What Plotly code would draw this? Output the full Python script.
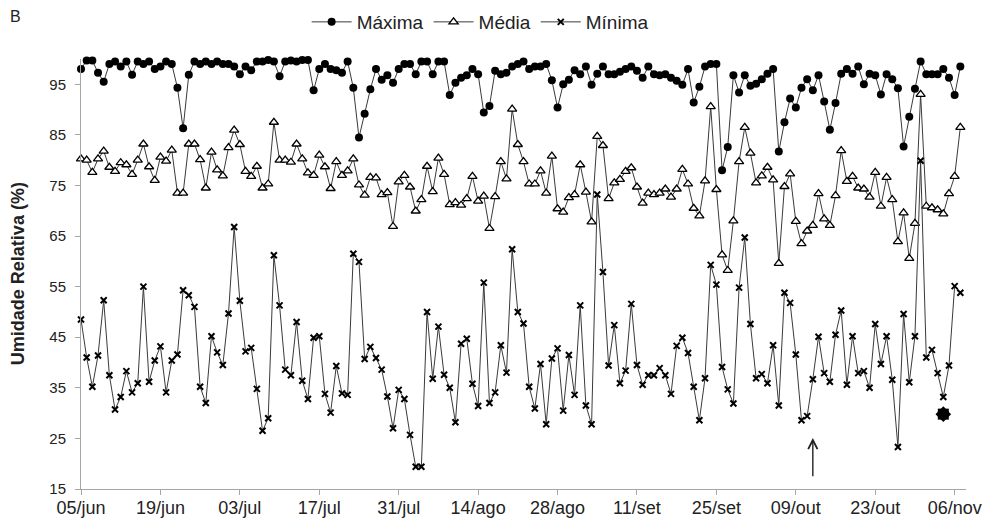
import pandas as pd
import plotly.graph_objects as go

start_date = "2012-06-05"
n_days = 156

tick_labels = ["05/jun", "19/jun", "03/jul", "17/jul", "31/jul", "14/ago",
               "28/ago", "11/set", "25/set", "09/out", "23/out", "06/nov"]

maxima = [98.0, 99.7, 99.7, 97.3, 95.5, 99.0, 99.5, 98.5, 99.5, 96.9,
          99.5, 99.0, 99.5, 98.0, 98.5, 99.5, 99.0, 94.3, 86.3, 96.9,
          99.5, 99.0, 99.5, 99.0, 99.5, 99.0, 99.0, 98.5, 97.0, 98.5,
          97.8, 99.5, 99.5, 99.8, 99.5, 96.6, 99.5, 99.7, 99.5, 99.8,
          99.8, 93.8, 98.0, 99.0, 98.0, 97.8, 97.3, 99.5, 94.3, 84.5,
          89.2, 94.0, 98.0, 95.9, 96.8, 95.3, 98.0, 99.0, 99.0, 97.0,
          99.5, 99.5, 97.0, 99.5, 99.5, 92.9, 95.3, 96.3, 96.8, 98.0,
          97.0, 89.4, 90.7, 97.7, 97.0, 97.3, 98.5, 99.0, 99.5, 98.0,
          98.5, 98.5, 99.0, 95.8, 90.4, 95.0, 95.9, 97.8, 97.0, 98.5,
          94.9, 97.1, 98.5, 97.0, 97.0, 97.5, 98.0, 98.5, 97.7, 96.3,
          98.5, 97.0, 96.8, 97.0, 96.3, 95.7, 94.9, 98.0, 91.4, 94.5,
          98.5, 99.0, 99.0, 78.0, 82.6, 96.8, 93.4, 96.8, 94.7, 95.1,
          96.0, 97.1, 98.0, 81.7, 87.5, 92.2, 90.4, 94.3, 96.0, 93.8,
          96.8, 91.6, 86.0, 91.3, 97.1, 98.0, 97.1, 98.5, 95.0, 97.1,
          96.8, 93.0, 97.0, 96.0, 94.2, 82.7, 88.6, 94.1, 99.5, 97.0,
          97.0, 97.0, 98.0, 96.3, 92.9, 98.5]

media = [80.25, 80.0, 77.6, 80.25, 81.8, 78.6, 77.8, 79.5, 79.1, 77.2,
         80.0, 83.2, 78.7, 76.0, 80.6, 79.8, 82.0, 73.5, 73.5, 83.2,
         83.2, 80.1, 74.5, 81.6, 78.1, 76.9, 82.5, 85.95, 83.1, 77.8,
         76.8, 78.8, 74.5, 75.3, 87.5, 80.0, 80.0, 79.6, 83.2, 80.25,
         77.5, 77.0, 81.0, 78.7, 74.4, 79.7, 77.0, 77.9, 80.25, 75.1,
         73.1, 76.6, 76.5, 73.2, 73.6, 66.9, 75.7, 77.0, 74.7, 69.95,
         72.2, 78.8, 73.8, 80.4, 77.2, 71.2, 71.6, 71.1, 72.4, 76.8,
         71.9, 72.9, 66.5, 72.8, 79.7, 76.3, 90.1, 83.1, 79.7, 75.3,
         75.3, 77.9, 73.5, 80.8, 70.4, 69.75, 72.6, 73.2, 79.1, 73.7,
         67.8, 84.7, 82.9, 72.4, 75.5, 76.2, 77.8, 78.5, 74.7, 71.5,
         73.5, 73.2, 73.5, 74.3, 72.7, 74.3, 78.2, 75.3, 70.5, 69.0,
         75.9, 90.6, 74.2, 61.3, 58.2, 68.0, 79.7, 86.5, 81.4, 75.5,
         76.9, 78.6, 76.1, 59.6, 74.8, 77.3, 67.9, 63.5, 66.0, 67.1,
         73.4, 68.4, 67.1, 73.0, 81.9, 75.8, 76.8, 74.5, 74.3, 72.7,
         77.6, 70.9, 76.6, 72.2, 63.9, 69.6, 60.6, 67.5, 93.0, 70.9,
         70.6, 70.2, 69.4, 73.4, 76.8, 86.5]

minima = [48.5, 41.0, 35.2, 41.4, 52.3, 37.5, 30.7, 33.2, 38.3, 34.1,
          35.9, 55.0, 36.2, 40.4, 43.2, 34.1, 40.4, 41.6, 54.3, 53.3,
          51.0, 35.2, 32.0, 45.2, 42.0, 39.5, 49.7, 66.8, 52.2, 42.2,
          42.9, 34.8, 26.5, 29.0, 61.2, 51.3, 38.6, 37.5, 48.0, 36.4,
          32.8, 44.9, 45.2, 33.8, 30.1, 39.3, 33.9, 33.6, 61.5, 59.9,
          40.7, 43.1, 40.9, 38.6, 33.3, 27.0, 34.6, 32.8, 25.7, 19.4,
          19.4, 50.0, 36.8, 47.1, 37.6, 35.0, 28.2, 43.7, 44.7, 35.8,
          31.4, 55.8, 32.0, 34.1, 43.4, 38.0, 62.4, 50.0, 47.7, 35.2,
          30.9, 39.7, 27.8, 40.8, 42.8, 30.5, 41.5, 33.6, 51.3, 31.5,
          27.8, 73.2, 57.9, 39.4, 47.4, 35.9, 38.4, 51.6, 39.5, 35.6,
          37.5, 37.5, 38.9, 37.5, 33.8, 43.3, 44.9, 41.9, 35.2, 28.6,
          36.9, 59.3, 55.4, 39.1, 34.7, 31.9, 54.8, 64.7, 47.6, 36.9,
          37.7, 35.9, 43.4, 31.5, 53.8, 51.8, 41.6, 28.6, 29.4, 36.7,
          45.1, 37.9, 36.2, 45.5, 50.3, 35.6, 45.2, 37.9, 38.3, 35.0,
          47.6, 39.7, 45.2, 36.6, 23.3, 49.6, 36.1, 45.2, 79.9, 41.0,
          42.5, 37.9, 33.2, 39.4, 55.1, 53.8]

star_day = 152
star_value = 29.8
arrow_day = 129
arrow_tip = 25.1
arrow_tail = 17.2

dates = pd.date_range(start_date, periods=n_days, freq="D")
tick_vals = pd.date_range(start_date, periods=len(tick_labels), freq="14D")

FONT = "Arial, Liberation Sans, sans-serif"
LINE_C = "#3a3a3a"

fig = go.Figure()
fig.add_trace(go.Scatter(
    x=dates, y=maxima, name="Máxima", mode="lines+markers",
    line=dict(color=LINE_C, width=1),
    marker=dict(symbol="circle", size=8, color="black"),
    cliponaxis=False))
fig.add_trace(go.Scatter(
    x=dates, y=media, name="Média", mode="lines+markers",
    line=dict(color=LINE_C, width=1),
    marker=dict(symbol="triangle-up", size=8, color="white",
                line=dict(color="black", width=1.3)),
    cliponaxis=False))
fig.add_trace(go.Scatter(
    x=dates, y=minima, name="Mínima", mode="lines+markers",
    line=dict(color=LINE_C, width=1),
    marker=dict(symbol="x-thin", size=6, color="black",
                line=dict(color="black", width=2)),
    cliponaxis=False))

star_x = [dates[star_day]]
fig.add_trace(go.Scatter(x=star_x, y=[star_value], mode="markers", showlegend=False,
                         marker=dict(symbol="square", size=11, color="black"),
                         hoverinfo="skip"))
fig.add_trace(go.Scatter(x=star_x, y=[star_value], mode="markers", showlegend=False,
                         marker=dict(symbol="diamond", size=12, color="black"),
                         hoverinfo="skip"))

fig.add_annotation(x=dates[arrow_day], y=arrow_tip, ax=dates[arrow_day], ay=arrow_tail,
                   xref="x", yref="y", axref="x", ayref="y", text="",
                   showarrow=True, arrowhead=5, arrowsize=1.3, arrowwidth=1.4,
                   arrowcolor="#222222")

fig.add_annotation(text="B", xref="paper", yref="paper", x=-0.082, y=1.098,
                   xanchor="left", yanchor="middle", showarrow=False,
                   font=dict(family=FONT, size=16, color="#222222"))
fig.add_annotation(text="<b>Umidade Relativa (%)</b>", xref="paper", yref="paper",
                   x=-0.071, y=0.50, textangle=-90, xanchor="center", yanchor="middle",
                   showarrow=False, font=dict(family=FONT, size=18, color="#222222"))

fig.update_layout(
    width=987, height=522,
    margin=dict(l=81, r=21, t=59, b=33, autoexpand=False),
    paper_bgcolor="white", plot_bgcolor="white",
    font=dict(family=FONT, size=14, color="#222222"),
    showlegend=True,
    legend=dict(orientation="h", x=0.451, xanchor="center", y=1.086, yanchor="middle",
                font=dict(family=FONT, size=19, color="#222222"),
                itemwidth=40, tracegroupgap=0, bgcolor="rgba(0,0,0,0)"),
)
fig.update_xaxes(
    type="date",
    range=[dates[0], dates[0] + pd.Timedelta(days=156)],
    tickvals=tick_vals, ticktext=tick_labels,
    showgrid=False, zeroline=False,
    showline=True, linecolor="#a6a6a6", linewidth=1,
    ticks="outside", ticklen=5, tickcolor="#a6a6a6",
    ticklabelstandoff=-3,
    tickfont=dict(family=FONT, size=18, color="#222222"),
)
fig.update_yaxes(
    range=[15, 100],
    tickvals=[15, 25, 35, 45, 55, 65, 75, 85, 95],
    showgrid=False, zeroline=False,
    showline=True, linecolor="#a6a6a6", linewidth=1,
    ticks="outside", ticklen=5, tickcolor="#a6a6a6",
    ticklabelstandoff=6,
    tickfont=dict(family=FONT, size=15, color="#222222"),
)

fig.write_html("out.html")
